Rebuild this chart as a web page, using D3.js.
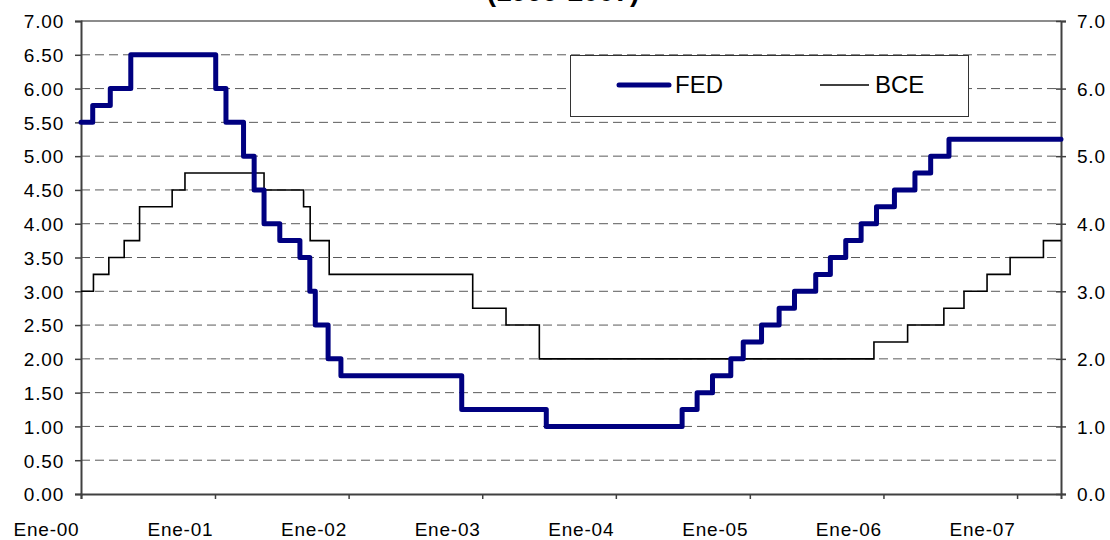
<!DOCTYPE html>
<html>
<head>
  <meta charset="UTF-8">
  <style>
    body {
      margin: 0;
      background-color: #ffffff;
      font-family: "Liberation Sans", Arial, sans-serif;
    }
    svg {
      display: block;
    }
    .tick-label {
      font-size: 19px;
      fill: #000;
      letter-spacing: 0.8px;
    }
    .legend-text {
      font-size: 24px;
      fill: #000;
    }
  </style>
</head>
<body>

<svg id="chart"></svg>

<script src="https://d3js.org/d3.v7.min.js"></script>

<script>
// Fed funds target and ECB main rate, change dates and new levels
let fedDates = ["2000-01-01", "2000-02-02", "2000-03-21", "2000-05-16", "2001-01-03", "2001-01-31",
  "2001-03-20", "2001-04-18", "2001-05-15", "2001-06-27", "2001-08-21", "2001-09-17", "2001-10-02",
  "2001-11-06", "2001-12-11", "2002-11-06", "2003-06-25", "2004-06-30", "2004-08-10", "2004-09-21",
  "2004-11-10", "2004-12-14", "2005-02-02", "2005-03-22", "2005-05-03", "2005-06-30", "2005-08-09",
  "2005-09-20", "2005-11-01", "2005-12-13", "2006-01-31", "2006-03-28", "2006-05-10", "2006-06-29"];
let fedRates = [5.50, 5.75, 6.00, 6.50, 6.00, 5.50,
  5.00, 4.50, 4.00, 3.75, 3.50, 3.00, 2.50,
  2.00, 1.75, 1.25, 1.00, 1.25, 1.50, 1.75,
  2.00, 2.25, 2.50, 2.75, 3.00, 3.25, 3.50,
  3.75, 4.00, 4.25, 4.50, 4.75, 5.00, 5.25];

let bceDates = ["2000-01-01", "2000-02-04", "2000-03-17", "2000-04-28", "2000-06-09", "2000-09-06",
  "2000-10-11", "2001-05-15", "2001-08-31", "2001-09-18", "2001-11-09", "2002-12-06", "2003-03-07",
  "2003-06-06", "2005-12-06", "2006-03-08", "2006-06-15", "2006-08-09", "2006-10-11", "2006-12-13",
  "2007-03-14"];
let bceRates = [3.00, 3.25, 3.50, 3.75, 4.25, 4.50,
  4.75, 4.50, 4.25, 3.75, 3.25, 2.75, 2.50,
  2.00, 2.25, 2.50, 2.75, 3.00, 3.25, 3.50,
  3.75];

let startDate = "2000-01-01", endDate = "2007-05-01";
let yearTicks = ["2000-01-01", "2001-01-01", "2002-01-01", "2003-01-01", "2004-01-01",
  "2005-01-01", "2006-01-01", "2007-01-01"];
let yearLabels = ["Ene-00", "Ene-01", "Ene-02", "Ene-03", "Ene-04", "Ene-05", "Ene-06", "Ene-07"];
let leftTicks = [0, 0.5, 1, 1.5, 2, 2.5, 3, 3.5, 4, 4.5, 5, 5.5, 6, 6.5, 7];
let rightTicks = [0, 1, 2, 3, 4, 5, 6, 7];
let title = "(1999-2007)";

let width = 1110, height = 540;
let svg = d3.select("#chart").attr("width", width).attr("height", height);

let parse = d3.timeParse("%Y-%m-%d");

let x = d3.scaleTime()
    .domain([parse(startDate), parse(endDate)])
    .range([81, 1061]);

let y = d3.scaleLinear()
    .domain([0, 7])
    .range([494, 21]);

function steps(dates, rates) {
  let pts = dates.map((d, i) => ({ date: parse(d), value: rates[i] }));
  pts.push({ date: parse(endDate), value: rates[rates.length - 1] });
  return pts;
}

// title, cut at the top edge as in the original
svg.append("text")
    .attr("x", 563)
    .attr("y", 1)
    .attr("text-anchor", "middle")
    .style("font-size", "28px")
    .style("font-weight", "bold")
    .text(title);

// gridlines
svg.append("g")
    .selectAll("line")
    .data(leftTicks.filter(v => v > 0 && v < 7))
    .enter()
    .append("line")
    .attr("x1", x.range()[0])
    .attr("x2", x.range()[1])
    .attr("y1", d => y(d))
    .attr("y2", d => y(d))
    .attr("stroke", "#5a5a5a")
    .attr("stroke-width", 1)
    .attr("stroke-dasharray", "9,5");

svg.append("line")
    .attr("x1", x.range()[0])
    .attr("x2", x.range()[1])
    .attr("y1", y(7))
    .attr("y2", y(7))
    .attr("stroke", "#8c8c8c")
    .attr("stroke-width", 2);

// left axis
let leftAxis = svg.append("g")
    .attr("transform", "translate(" + x.range()[0] + ",0)")
    .call(d3.axisLeft(y).tickValues(leftTicks).tickFormat(d3.format(".2f")).tickSize(6).tickPadding(11));

// right axis
let rightAxis = svg.append("g")
    .attr("transform", "translate(" + x.range()[1] + ",0)")
    .call(d3.axisRight(y).tickValues(rightTicks).tickFormat(d3.format(".1f")).tickSize(5).tickPadding(11));
rightAxis.selectAll(".tick line").attr("x1", -5);

// bottom axis
let bottomAxis = svg.append("g")
    .attr("transform", "translate(0," + y(0) + ")")
    .call(d3.axisBottom(x).tickValues(yearTicks.map(parse)).tickFormat((d, i) => yearLabels[i]).tickSize(5));

[leftAxis, rightAxis, bottomAxis].forEach(a => {
  a.select(".domain").attr("stroke", "#404040").attr("stroke-width", 2);
  a.selectAll(".tick line").attr("stroke", "#404040").attr("stroke-width", 1.5);
  a.selectAll(".tick text").attr("class", "tick-label").style("font-family", null).style("font-size", null);
  a.attr("font-size", null).attr("font-family", null);
});
leftAxis.selectAll(".tick text").attr("dy", "0.36em");
rightAxis.selectAll(".tick text").attr("dy", "0.36em");
bottomAxis.selectAll(".tick text")
    .attr("text-anchor", "end")
    .attr("x", -2)
    .attr("y", 42)
    .attr("dy", "0");

let line = d3.line()
    .x(d => x(d.date))
    .y(d => y(d.value))
    .curve(d3.curveStepAfter);

svg.append("path")
    .datum(steps(bceDates, bceRates))
    .attr("d", line)
    .attr("fill", "none")
    .attr("stroke", "#000")
    .attr("stroke-width", 1.6);

svg.append("path")
    .datum(steps(fedDates, fedRates))
    .attr("d", line)
    .attr("fill", "none")
    .attr("stroke", "#000080")
    .attr("stroke-width", 5)
    .attr("stroke-linejoin", "round")
    .attr("stroke-linecap", "round");

// legend
let legend = svg.append("g");
legend.append("rect")
    .attr("x", 570.5)
    .attr("y", 55.5)
    .attr("width", 398)
    .attr("height", 61)
    .attr("fill", "#fff")
    .attr("stroke", "#333")
    .attr("stroke-width", 1);

legend.append("line")
    .attr("x1", 619).attr("x2", 669)
    .attr("y1", 85).attr("y2", 85)
    .attr("stroke", "#000080")
    .attr("stroke-width", 5)
    .attr("stroke-linecap", "round");
legend.append("text")
    .attr("class", "legend-text")
    .attr("x", 675)
    .attr("y", 93)
    .text("FED");

legend.append("line")
    .attr("x1", 820).attr("x2", 869)
    .attr("y1", 85).attr("y2", 85)
    .attr("stroke", "#000")
    .attr("stroke-width", 1.6);
legend.append("text")
    .attr("class", "legend-text")
    .attr("x", 875)
    .attr("y", 93)
    .text("BCE");
</script>

</body>
</html>
